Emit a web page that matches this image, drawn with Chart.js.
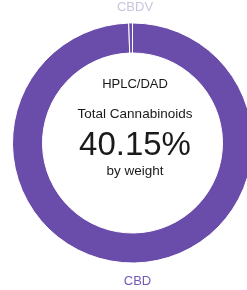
<!DOCTYPE html>
<html>
<head>
<meta charset="utf-8">
<script src="https://cdn.jsdelivr.net/npm/chart.js@4"></script>
<style>
    html, body { margin: 0; padding: 0; background: #fff; overflow: hidden; }
    #wrap { position: relative; width: 265px; height: 290px; }
</style>
</head>
<body>
<div id="wrap"><canvas id="potency" width="265" height="290"></canvas></div>
<script>
// Cannabinoid breakdown (percent by weight)
const labels = ['CBD', 'CBDV'];
const values = [39.95, 0.20];
const sliceColors = ['#6a4caa', '#6a4caa'];
const labelColors = ['#7658b5', '#cbc4de'];

const totalLabel = '40.15%';
const centerLines = ['HPLC/DAD', 'Total Cannabinoids'];
const bottomLine = 'by weight';

// draws the texts in the hole plus the outer slice names
const centerText = {
    id: 'centerText',
    afterDraw(chart) {
        const ctx = chart.ctx;
        const arc = chart.getDatasetMeta(0).data[0];
        const cx = arc.x + 2.5;
        const cy = arc.y;
        ctx.save();
        ctx.textAlign = 'center';
        ctx.textBaseline = 'alphabetic';
        ctx.fillStyle = '#1a1a1a';
        ctx.font = '13px "Liberation Sans", Arial, sans-serif';
        ctx.fillText(centerLines[0], cx, cy - 55);
        ctx.font = '13.5px "Liberation Sans", Arial, sans-serif';
        ctx.fillText(centerLines[1], cx, cy - 25);
        ctx.font = '33px "Liberation Sans", Arial, sans-serif';
        ctx.fillText(totalLabel, cx, cy + 12);
        ctx.font = '13.5px "Liberation Sans", Arial, sans-serif';
        ctx.fillText(bottomLine, cx, cy + 32);

        // slice names outside the ring
        ctx.font = '13px "Liberation Sans", Arial, sans-serif';
        ctx.fillStyle = labelColors[1];
        ctx.fillText(labels[1], arc.x + 2.5, arc.y - arc.outerRadius - 12);
        ctx.fillStyle = labelColors[0];
        ctx.fillText(labels[0], arc.x + 5, arc.y + arc.outerRadius + 22);
        ctx.restore();
    }
};

new Chart(document.getElementById('potency').getContext('2d'), {
    type: 'doughnut',
    data: {
        labels: labels,
        datasets: [{
            data: values,
            backgroundColor: sliceColors,
            borderColor: '#ffffff',
            borderWidth: 1,
            hoverOffset: 0
        }]
    },
    options: {
        responsive: false,
        animation: false,
        cutout: '75%',
        layout: { padding: { top: 22, bottom: 26, left: 12, right: 12 } },
        plugins: {
            legend: { display: false },
            tooltip: { enabled: false }
        }
    },
    plugins: [centerText]
});
</script>
</body>
</html>
